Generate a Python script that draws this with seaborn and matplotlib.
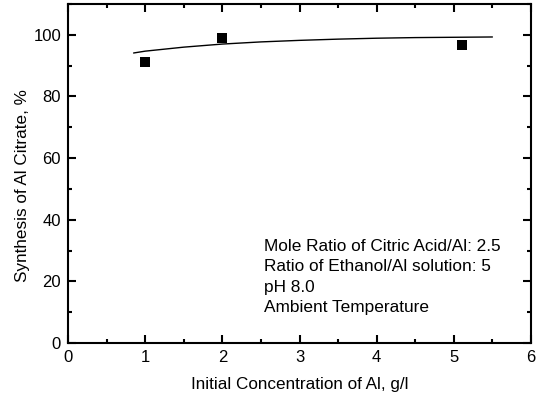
import matplotlib
matplotlib.use("Agg")
import matplotlib.pyplot as plt
import seaborn as sns
import pandas as pd
from matplotlib.ticker import MultipleLocator

sns.set_theme(style="ticks")
plt.rcParams['font.family'] = ['Liberation Sans', 'DejaVu Sans']
plt.rcParams['text.color'] = 'black'
plt.rcParams['axes.labelcolor'] = 'black'

conc = [1.0, 2.0, 5.1]
synthesis = [91.2, 99.0, 96.8]

fit_x = [0.85, 1.0, 1.5, 2.0, 2.5, 3.0, 3.5, 4.0, 4.5, 5.0, 5.5]
fit_y = [94.1, 94.7, 96.0, 97.0, 97.7, 98.2, 98.6, 98.9, 99.1, 99.2, 99.3]

annot_lines = ["Mole Ratio of Citric Acid/Al: 2.5",
               "Ratio of Ethanol/Al solution: 5",
               "pH 8.0",
               "Ambient Temperature"]

pts = pd.DataFrame({"x": conc, "y": synthesis})
fit = pd.DataFrame({"x": fit_x, "y": fit_y})

fig = plt.figure(figsize=(5.36, 3.96), dpi=100)
ax = fig.add_axes([68/536, 1-343/396, (531-68)/536, (343-4)/396])

sns.lineplot(data=fit, x="x", y="y", ax=ax, color="black", lw=1.0)
sns.scatterplot(data=pts, x="x", y="y", ax=ax, marker="s", s=60, color="black",
                edgecolor="black", linewidth=0)

ax.set_xlim(0, 6)
ax.set_ylim(0, 110)
ax.xaxis.set_major_locator(MultipleLocator(1))
ax.xaxis.set_minor_locator(MultipleLocator(0.5))
ax.yaxis.set_major_locator(MultipleLocator(20))
ax.yaxis.set_minor_locator(MultipleLocator(10))
ax.tick_params(which="both", direction="in", top=True, right=True, width=1.5,
               colors="black", labelsize=12)
ax.tick_params(which="major", length=6, pad=5)
ax.tick_params(which="minor", length=3)
for sp in ax.spines.values():
    sp.set_linewidth(1.5)
    sp.set_color("black")

ax.set_xlabel("Initial Concentration of Al, g/l", fontsize=12.3, labelpad=9)
ax.set_ylabel("Synthesis of Al Citrate, %", fontsize=12.3)
ax.yaxis.set_label_coords(-0.081, 0.463)

ax.text(264/536, 1-239/396, "\n".join(annot_lines), transform=fig.transFigure,
        fontsize=12.4, va="top", ha="left", linespacing=1.45, color="black")

fig.savefig("out.png", dpi=100)
